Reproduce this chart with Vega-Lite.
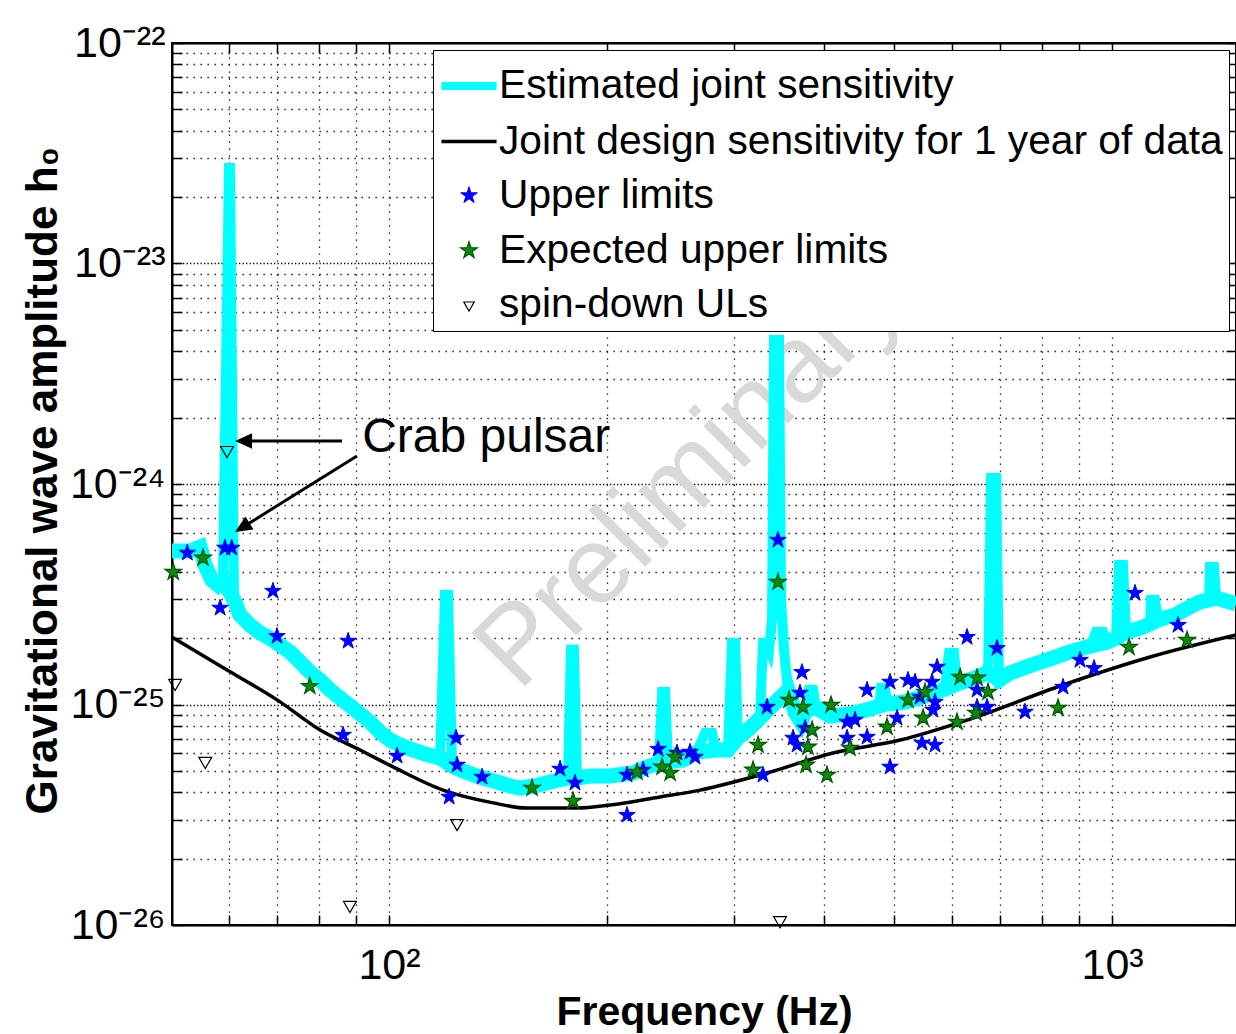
{
  "$schema": "https://vega.github.io/schema/vega-lite/v6.json",
  "width": 1064,
  "height": 882,
  "autosize": {"type": "none"},
  "padding": {"left": 172, "top": 43, "right": 0, "bottom": 109},
  "background": "white",
  "config": {
    "font": "Liberation Sans",
    "view": {"stroke": "#000", "strokeWidth": 2},
    "axis": {"domainColor": "#000", "domainWidth": 2, "tickColor": "#000", "tickWidth": 1.5, "tickSize": -10, "labelColor": "#000", "titleColor": "#000", "labelFont": "Liberation Sans", "titleFont": "Liberation Sans", "labelOverlap": false, "labelFlush": false, "labelBound": false},
    "legend": {"orient": "none", "legendX": 261, "legendY": 7, "fillColor": "#ffffff", "strokeColor": "#000000", "padding": 6, "labelFont": "Liberation Sans", "labelFontSize": 40.7, "labelColor": "#000", "labelLimit": 0, "labelOffset": 0, "symbolOpacity": 1, "symbolSize": 2704, "rowPadding": 7.5}
  },
  "datasets": {
    "est": [
      {"f": 50.1, "h": 4.97e-25}, {"f": 53.06, "h": 4.97e-25}, {"f": 54.78, "h": 5.18e-25}, {"f": 55.65, "h": 4.29e-25},
      {"f": 56.9, "h": 3.67e-25}, {"f": 58.0, "h": 3.48e-25}, {"f": 58.93, "h": 3.67e-25},
      {"f": 60.07, "h": 2.71e-23, "pk": 1}, {"f": 60.26, "h": 2.71e-23, "pk": 1},
      {"f": 61.04, "h": 2.98e-25}, {"f": 62.2, "h": 2.55e-25}, {"f": 64.24, "h": 2.29e-25}, {"f": 66.31, "h": 2.11e-25},
      {"f": 68.46, "h": 2.0e-25}, {"f": 70.67, "h": 1.86e-25}, {"f": 72.96, "h": 1.73e-25}, {"f": 75.31, "h": 1.56e-25},
      {"f": 77.75, "h": 1.40e-25}, {"f": 80.27, "h": 1.29e-25}, {"f": 82.87, "h": 1.164e-25}, {"f": 85.56, "h": 1.07e-25},
      {"f": 88.33, "h": 9.85e-26}, {"f": 91.18, "h": 9.06e-26}, {"f": 94.13, "h": 8.33e-26}, {"f": 97.17, "h": 7.5e-26},
      {"f": 100.32, "h": 6.9e-26}, {"f": 103.56, "h": 6.55e-26}, {"f": 107.94, "h": 6.22e-26}, {"f": 112.15, "h": 5.96e-26},
      {"f": 117.63, "h": 5.72e-26},
      {"f": 119.52, "h": 3.14e-25, "pk": 1}, {"f": 120.67, "h": 3.14e-25, "pk": 1},
      {"f": 122.22, "h": 5.26e-26}, {"f": 126.59, "h": 4.99e-26}, {"f": 133.63, "h": 4.69e-26}, {"f": 141.1, "h": 4.45e-26},
      {"f": 147.07, "h": 4.27e-26}, {"f": 151.78, "h": 4.18e-26}, {"f": 159.2, "h": 4.27e-26}, {"f": 167.0, "h": 4.45e-26},
      {"f": 176.8, "h": 4.64e-26},
      {"f": 178.5, "h": 1.77e-25, "pk": 1}, {"f": 180.2, "h": 1.77e-25, "pk": 1},
      {"f": 182.0, "h": 4.64e-26}, {"f": 189.6, "h": 4.74e-26}, {"f": 202.1, "h": 4.74e-26}, {"f": 217.5, "h": 4.89e-26},
      {"f": 227.5, "h": 5.21e-26}, {"f": 236.3, "h": 5.43e-26},
      {"f": 238.6, "h": 1.139e-25, "pk": 1}, {"f": 240.9, "h": 1.139e-25, "pk": 1},
      {"f": 243.2, "h": 5.49e-26}, {"f": 255.1, "h": 5.6e-26}, {"f": 266.7, "h": 6.09e-26},
      {"f": 273.6, "h": 7.43e-26, "pk": 1}, {"f": 279.7, "h": 7.43e-26, "pk": 1},
      {"f": 283.3, "h": 6.22e-26}, {"f": 294.3, "h": 6.22e-26},
      {"f": 298.1, "h": 1.9e-25, "pk": 1}, {"f": 301.0, "h": 1.9e-25, "pk": 1},
      {"f": 303.8, "h": 7.05e-26}, {"f": 315.7, "h": 7.82e-26}, {"f": 325.9, "h": 8.69e-26},
      {"f": 329.0, "h": 1.9e-25, "pk": 1}, {"f": 332.2, "h": 1.9e-25, "pk": 1}, {"f": 335.4, "h": 1.77e-25, "pk": 1},
      {"f": 338.6, "h": 2.42e-25, "pk": 1}, {"f": 340.8, "h": 4.5e-24, "pk": 1}, {"f": 346.2, "h": 4.5e-24, "pk": 1},
      {"f": 348.5, "h": 2.98e-25, "pk": 1}, {"f": 351.8, "h": 1.77e-25, "pk": 1},
      {"f": 356.3, "h": 1.164e-25}, {"f": 364.4, "h": 9.25e-26}, {"f": 371.4, "h": 8.33e-26}, {"f": 377.4, "h": 9.44e-26},
      {"f": 380.9, "h": 1.164e-25, "pk": 1}, {"f": 385.9, "h": 1.164e-25, "pk": 1},
      {"f": 389.6, "h": 9.64e-26}, {"f": 407.3, "h": 8.87e-26}, {"f": 434.1, "h": 9.06e-26}, {"f": 462.7, "h": 9.54e-26},
      {"f": 476.1, "h": 9.85e-26},
      {"f": 479.2, "h": 1.188e-25, "pk": 1}, {"f": 485.3, "h": 1.188e-25, "pk": 1},
      {"f": 488.4, "h": 1.005e-25}, {"f": 517.3, "h": 1.026e-25}, {"f": 551.3, "h": 1.093e-25}, {"f": 587.5, "h": 1.176e-25},
      {"f": 595.0, "h": 1.71e-25, "pk": 1}, {"f": 604.5, "h": 1.71e-25, "pk": 1},
      {"f": 610.3, "h": 1.24e-25}, {"f": 646.5, "h": 1.32e-25}, {"f": 673.8, "h": 1.4e-25},
      {"f": 680.3, "h": 1.065e-24, "pk": 1}, {"f": 691.1, "h": 1.065e-24, "pk": 1},
      {"f": 697.7, "h": 1.29e-25}, {"f": 722.6, "h": 1.39e-25}, {"f": 770.2, "h": 1.5e-25}, {"f": 820.8, "h": 1.61e-25},
      {"f": 874.9, "h": 1.73e-25}, {"f": 932.4, "h": 1.84e-25},
      {"f": 950.2, "h": 2.13e-25, "pk": 1}, {"f": 971.7, "h": 2.13e-25, "pk": 1},
      {"f": 984.2, "h": 1.92e-25}, {"f": 1012.8, "h": 2.0e-25},
      {"f": 1022.5, "h": 4.29e-25, "pk": 1}, {"f": 1035.6, "h": 4.29e-25, "pk": 1},
      {"f": 1045.6, "h": 2.13e-25}, {"f": 1093.3, "h": 2.22e-25}, {"f": 1128.7, "h": 2.32e-25},
      {"f": 1132.3, "h": 2.98e-25, "pk": 1}, {"f": 1146.6, "h": 2.98e-25, "pk": 1},
      {"f": 1157.7, "h": 2.42e-25}, {"f": 1222.2, "h": 2.55e-25}, {"f": 1289.9, "h": 2.8e-25}, {"f": 1323.2, "h": 2.92e-25},
      {"f": 1361.6, "h": 2.98e-25},
      {"f": 1366.0, "h": 4.2e-25, "pk": 1}, {"f": 1383.8, "h": 4.2e-25, "pk": 1},
      {"f": 1392.6, "h": 3.04e-25}, {"f": 1483.6, "h": 2.86e-25}
    ],
    "design": [
      {"f": 50.1, "h": 2.02e-25}, {"f": 59.7, "h": 1.434e-25}, {"f": 70.1, "h": 1.047e-25}, {"f": 80.3, "h": 7.66e-26},
      {"f": 91.2, "h": 6.22e-26}, {"f": 101.3, "h": 5.21e-26}, {"f": 118.8, "h": 4.09e-26}, {"f": 139.3, "h": 3.58e-26},
      {"f": 155.2, "h": 3.39e-26}, {"f": 182.0, "h": 3.39e-26}, {"f": 202.2, "h": 3.5e-26}, {"f": 237.1, "h": 3.81e-26},
      {"f": 269.3, "h": 4.09e-26}, {"f": 333.3, "h": 4.89e-26}, {"f": 411.3, "h": 6.03e-26}, {"f": 509.1, "h": 6.9e-26},
      {"f": 630.2, "h": 8.5e-26}, {"f": 855.2, "h": 1.226e-25}, {"f": 1128.8, "h": 1.642e-25}, {"f": 1484, "h": 2.066e-25}
    ],
    "stars": [
      {"f": 52.6, "h": 4.87e-25, "s": "Upper limits"}, {"f": 58.4, "h": 2.74e-25, "s": "Upper limits"}, {"f": 59.3, "h": 5.13e-25, "s": "Upper limits"}, {"f": 60.6, "h": 5.13e-25, "s": "Upper limits"},
      {"f": 69.1, "h": 3.27e-25, "s": "Upper limits"}, {"f": 70.0, "h": 2.04e-25, "s": "Upper limits"}, {"f": 87.8, "h": 1.94e-25, "s": "Upper limits"}, {"f": 86.4, "h": 7.27e-26, "s": "Upper limits"},
      {"f": 102.6, "h": 5.84e-26, "s": "Upper limits"}, {"f": 121.1, "h": 3.81e-26, "s": "Upper limits"}, {"f": 123.8, "h": 7.05e-26, "s": "Upper limits"}, {"f": 124.2, "h": 5.32e-26, "s": "Upper limits"},
      {"f": 134.5, "h": 4.69e-26, "s": "Upper limits"}, {"f": 172.4, "h": 5.1e-26, "s": "Upper limits"}, {"f": 180.8, "h": 4.41e-26, "s": "Upper limits"}, {"f": 213.4, "h": 3.15e-26, "s": "Upper limits"},
      {"f": 213.4, "h": 4.79e-26, "s": "Upper limits"}, {"f": 224.6, "h": 5.05e-26, "s": "Upper limits"}, {"f": 235.6, "h": 6.28e-26, "s": "Upper limits"}, {"f": 250.2, "h": 6.03e-26, "s": "Upper limits"},
      {"f": 260.8, "h": 6.09e-26, "s": "Upper limits"}, {"f": 265.0, "h": 5.78e-26, "s": "Upper limits"}, {"f": 329.0, "h": 4.79e-26, "s": "Upper limits"}, {"f": 333.3, "h": 9.74e-26, "s": "Upper limits"},
      {"f": 345.1, "h": 5.57e-25, "s": "Upper limits"}, {"f": 370.2, "h": 1.128e-25, "s": "Upper limits"}, {"f": 372.5, "h": 1.4e-25, "s": "Upper limits"}, {"f": 362.1, "h": 7.05e-26, "s": "Upper limits"},
      {"f": 366.7, "h": 6.55e-26, "s": "Upper limits"}, {"f": 376.2, "h": 7.82e-26, "s": "Upper limits"}, {"f": 430.0, "h": 8.33e-26, "s": "Upper limits"}, {"f": 441.1, "h": 8.51e-26, "s": "Upper limits"},
      {"f": 430.0, "h": 7.05e-26, "s": "Upper limits"}, {"f": 458.3, "h": 1.164e-25, "s": "Upper limits"}, {"f": 458.3, "h": 7.12e-26, "s": "Upper limits"}, {"f": 493.1, "h": 1.265e-25, "s": "Upper limits"},
      {"f": 504.2, "h": 8.69e-26, "s": "Upper limits"}, {"f": 493.1, "h": 5.21e-26, "s": "Upper limits"}, {"f": 522.1, "h": 1.29e-25, "s": "Upper limits"}, {"f": 534.0, "h": 1.265e-25, "s": "Upper limits"},
      {"f": 542.5, "h": 1.081e-25, "s": "Upper limits"}, {"f": 563.6, "h": 1.265e-25, "s": "Upper limits"}, {"f": 572.8, "h": 1.48e-25, "s": "Upper limits"}, {"f": 569.0, "h": 1.026e-25, "s": "Upper limits"},
      {"f": 565.4, "h": 9.44e-26, "s": "Upper limits"}, {"f": 546.0, "h": 6.69e-26, "s": "Upper limits"}, {"f": 569.0, "h": 6.55e-26, "s": "Upper limits"}, {"f": 630.1, "h": 2.02e-25, "s": "Upper limits"},
      {"f": 650.6, "h": 1.164e-25, "s": "Upper limits"}, {"f": 650.6, "h": 9.74e-26, "s": "Upper limits"}, {"f": 671.6, "h": 9.74e-26, "s": "Upper limits"}, {"f": 693.2, "h": 1.8e-25, "s": "Upper limits"},
      {"f": 758.0, "h": 9.25e-26, "s": "Upper limits"}, {"f": 855.5, "h": 1.2e-25, "s": "Upper limits"}, {"f": 903.1, "h": 1.59e-25, "s": "Upper limits"}, {"f": 944.3, "h": 1.46e-25, "s": "Upper limits"},
      {"f": 1075.9, "h": 3.2e-25, "s": "Upper limits"}, {"f": 1234, "h": 2.29e-25, "s": "Upper limits"},
      {"f": 50.3, "h": 3.99e-25, "s": "Expected upper limits"}, {"f": 55.3, "h": 4.62e-25, "s": "Expected upper limits"}, {"f": 77.7, "h": 1.21e-25, "s": "Expected upper limits"}, {"f": 157.7, "h": 4.18e-26, "s": "Expected upper limits"},
      {"f": 179.7, "h": 3.65e-26, "s": "Expected upper limits"}, {"f": 220.3, "h": 4.94e-26, "s": "Expected upper limits"}, {"f": 238.6, "h": 5.21e-26, "s": "Expected upper limits"}, {"f": 244.8, "h": 4.89e-26, "s": "Expected upper limits"},
      {"f": 248.7, "h": 5.78e-26, "s": "Expected upper limits"}, {"f": 318.8, "h": 5.05e-26, "s": "Expected upper limits"}, {"f": 323.9, "h": 6.55e-26, "s": "Expected upper limits"}, {"f": 345.1, "h": 3.59e-25, "s": "Expected upper limits"},
      {"f": 357.5, "h": 1.048e-25, "s": "Expected upper limits"}, {"f": 373.7, "h": 9.74e-26, "s": "Expected upper limits"}, {"f": 384.7, "h": 7.66e-26, "s": "Expected upper limits"}, {"f": 379.7, "h": 6.42e-26, "s": "Expected upper limits"},
      {"f": 377.4, "h": 5.32e-26, "s": "Expected upper limits"}, {"f": 403.4, "h": 4.79e-26, "s": "Expected upper limits"}, {"f": 408.6, "h": 9.95e-26, "s": "Expected upper limits"}, {"f": 434.1, "h": 6.35e-26, "s": "Expected upper limits"},
      {"f": 488.4, "h": 7.91e-26, "s": "Expected upper limits"}, {"f": 522.1, "h": 1.048e-25, "s": "Expected upper limits"}, {"f": 551.3, "h": 1.139e-25, "s": "Expected upper limits"}, {"f": 547.8, "h": 8.69e-26, "s": "Expected upper limits"},
      {"f": 616.4, "h": 1.33e-25, "s": "Expected upper limits"}, {"f": 650.6, "h": 1.32e-25, "s": "Expected upper limits"}, {"f": 673.8, "h": 1.139e-25, "s": "Expected upper limits"}, {"f": 610.3, "h": 8.33e-26, "s": "Expected upper limits"},
      {"f": 648.5, "h": 9.15e-26, "s": "Expected upper limits"}, {"f": 842.0, "h": 9.64e-26, "s": "Expected upper limits"}, {"f": 1055.6, "h": 1.82e-25, "s": "Expected upper limits"}, {"f": 1269.9, "h": 1.96e-25, "s": "Expected upper limits"}
    ],
    "sd": [
      {"f": 59.7, "h": 1.396e-24}, {"f": 50.6, "h": 1.226e-25}, {"f": 55.7, "h": 5.43e-26},
      {"f": 88.3, "h": 1.208e-26}, {"f": 124.2, "h": 2.84e-26}, {"f": 347.4, "h": 1.03e-26}
    ]
  },
  "layer": [
    {
      "data": {"values": [{"f": 260.8, "h": 1.099e-24, "t": "Preliminary"}]},
      "mark": {"type": "text", "font": "Liberation Sans", "fontSize": 110, "color": "#d9d9d9", "angle": 315, "align": "center", "baseline": "middle"},
      "encoding": {
        "x": {"field": "f", "type": "quantitative", "scale": {"type": "log"}, "axis": null},
        "y": {"field": "h", "type": "quantitative", "scale": {"type": "log"}, "axis": null},
        "text": {"field": "t"}
      }
    },
    {
      "data": {"name": "est"},
      "transform": [{"filter": "!datum.pk"}],
      "mark": {"type": "line", "color": "#00ffff", "strokeWidth": 15, "clip": true},
      "encoding": {
        "x": {"field": "f", "type": "quantitative", "scale": {"type": "log", "domain": [50.1, 1484], "nice": false},
          "axis": {"orient": "bottom", "values": [60, 70, 80, 90, 100, 200, 300, 400, 500, 600, 700, 800, 900, 1000],
            "labelExpr": "datum.value === 100 ? '10²' : datum.value === 1000 ? '10³' : ''",
            "labelFontSize": 43, "labelPadding": 29, "grid": true, "gridColor": "#000", "gridOpacity": 1, "gridWidth": 1.3, "gridDash": [1.3, 5.7],
            "title": "Frequency (Hz)", "titleFontSize": 41, "titleFontWeight": "bold", "titleX": 532, "titleY": 99, "titleAlign": "center", "titleBaseline": "alphabetic"}},
        "y": {"field": "h", "type": "quantitative", "scale": {"type": "log", "domain": [1e-26, 1e-22], "nice": false},
          "axis": {"orient": "left", "values": [1e-26, 2e-26, 3e-26, 4e-26, 5e-26, 6e-26, 7e-26, 8e-26, 9e-26, 1e-25, 2e-25, 3e-25, 4e-25, 5e-25, 6e-25, 7e-25, 8e-25, 9e-25, 1e-24, 2e-24, 3e-24, 4e-24, 5e-24, 6e-24, 7e-24, 8e-24, 9e-24, 1e-23, 2e-23, 3e-23, 4e-23, 5e-23, 6e-23, 7e-23, 8e-23, 9e-23, 1e-22],
            "labelExpr": "datum.value === 1e-22 ? '10⁻²²' : datum.value === 1e-23 ? '10⁻²³' : datum.value === 1e-24 ? '10⁻²⁴' : datum.value === 1e-25 ? '10⁻²⁵' : datum.value === 1e-26 ? '10⁻²⁶' : ''",
            "labelFontSize": 43, "labelPadding": 17, "grid": true, "gridColor": "#000", "gridOpacity": 1, "gridWidth": 1.3,
            "gridDash": {"condition": {"test": "datum.value === 1e-22 || datum.value === 1e-23 || datum.value === 1e-24 || datum.value === 1e-25 || datum.value === 1e-26", "value": [1.3, 2.2]}, "value": [1.3, 5.7]},
            "title": "Gravitational wave amplitude h₀", "titleFontSize": 44, "titleFontWeight": "bold", "titleAngle": 270, "titleX": -116, "titleY": 437, "titleAlign": "center", "titleBaseline": "alphabetic"}}
      }
    },
    {
      "data": {"name": "est"},
      "mark": {"type": "line", "color": "#00ffff", "strokeWidth": 10, "clip": true},
      "encoding": {
        "x": {"field": "f", "type": "quantitative", "scale": {"type": "log"}, "axis": null},
        "y": {"field": "h", "type": "quantitative", "scale": {"type": "log"}, "axis": null}
      }
    },
    {
      "data": {"name": "design"},
      "mark": {"type": "line", "color": "#000000", "strokeWidth": 3.5, "interpolate": "monotone", "clip": true},
      "encoding": {
        "x": {"field": "f", "type": "quantitative", "scale": {"type": "log"},
          "axis": {"orient": "top", "values": [60, 70, 80, 90, 100, 200, 300, 400, 500, 600, 700, 800, 900, 1000], "labels": false, "grid": false, "title": null}},
        "y": {"field": "h", "type": "quantitative", "scale": {"type": "log"},
          "axis": {"orient": "right", "values": [1e-26, 2e-26, 3e-26, 4e-26, 5e-26, 6e-26, 7e-26, 8e-26, 9e-26, 1e-25, 2e-25, 3e-25, 4e-25, 5e-25, 6e-25, 7e-25, 8e-25, 9e-25, 1e-24, 2e-24, 3e-24, 4e-24, 5e-24, 6e-24, 7e-24, 8e-24, 9e-24, 1e-23, 2e-23, 3e-23, 4e-23, 5e-23, 6e-23, 7e-23, 8e-23, 9e-23, 1e-22], "labels": false, "grid": false, "title": null}}
      }
    },
    {
      "data": {"name": "stars"},
      "mark": {"type": "point", "filled": true, "opacity": 1, "size": 2704},
      "encoding": {
        "x": {"field": "f", "type": "quantitative", "scale": {"type": "log"}, "axis": null},
        "y": {"field": "h", "type": "quantitative", "scale": {"type": "log"}, "axis": null},
        "color": {"field": "s", "type": "nominal",
          "scale": {"domain": ["Estimated joint sensitivity", "Joint design sensitivity for 1 year of data", "Upper limits", "Expected upper limits", "spin-down ULs"], "range": ["#00ffff", "#000000", "#0000ff", "#0f8a0f", "transparent"]},
          "legend": {"title": null}},
        "stroke": {"field": "s", "type": "nominal",
          "scale": {"domain": ["Estimated joint sensitivity", "Joint design sensitivity for 1 year of data", "Upper limits", "Expected upper limits", "spin-down ULs"], "range": ["#00ffff", "#000000", "#0000ff", "#005a00", "#000000"]},
          "legend": {"title": null}},
        "strokeWidth": {"field": "s", "type": "nominal",
          "scale": {"type": "ordinal", "domain": ["Estimated joint sensitivity", "Joint design sensitivity for 1 year of data", "Upper limits", "Expected upper limits", "spin-down ULs"], "range": [8, 3.5, 1, 1.3, 1.2]},
          "legend": {"title": null}},
        "shape": {"field": "s", "type": "nominal",
          "scale": {"domain": ["Estimated joint sensitivity", "Joint design sensitivity for 1 year of data", "Upper limits", "Expected upper limits", "spin-down ULs"],
            "range": ["M-1.06,0L1.06,0", "M-1.06,0L1.06,0", "M0,-0.335L0.0754,-0.1035L0.3186,-0.1035L0.1216,0.0395L0.197,0.271L0,0.128L-0.197,0.271L-0.1216,0.0395L-0.3186,-0.1035L-0.0754,-0.1035Z", "M0,-0.335L0.0754,-0.1035L0.3186,-0.1035L0.1216,0.0395L0.197,0.271L0,0.128L-0.197,0.271L-0.1216,0.0395L-0.3186,-0.1035L-0.0754,-0.1035Z", "M-0.2,-0.115L0.2,-0.115L0,0.23Z"]},
          "legend": {"title": null}}
      }
    },
    {
      "data": {"name": "sd"},
      "mark": {"type": "point", "shape": "triangle-down", "filled": false, "size": 165, "color": "#000000", "strokeWidth": 1.2, "opacity": 1},
      "encoding": {
        "x": {"field": "f", "type": "quantitative", "scale": {"type": "log"}, "axis": null},
        "y": {"field": "h", "type": "quantitative", "scale": {"type": "log"}, "axis": null}
      }
    },
    {
      "data": {"values": [{"f1": 86.1, "h1": 1.567e-24, "f2": 63.2, "h2": 1.567e-24}, {"f1": 90.3, "h1": 1.34e-24, "f2": 62.9, "h2": 6.4e-25}]},
      "mark": {"type": "rule", "color": "#000000", "strokeWidth": 3},
      "encoding": {
        "x": {"field": "f1", "type": "quantitative", "scale": {"type": "log"}, "axis": null},
        "y": {"field": "h1", "type": "quantitative", "scale": {"type": "log"}, "axis": null},
        "x2": {"field": "f2"},
        "y2": {"field": "h2"}
      }
    },
    {
      "data": {"values": [{"f": 61.24, "h": 1.567e-24}]},
      "mark": {"type": "point", "shape": "M0,0L2,-0.9L2,0.9Z", "filled": true, "size": 289, "color": "#000000", "opacity": 1, "angle": 0},
      "encoding": {
        "x": {"field": "f", "type": "quantitative", "scale": {"type": "log"}, "axis": null},
        "y": {"field": "h", "type": "quantitative", "scale": {"type": "log"}, "axis": null}
      }
    },
    {
      "data": {"values": [{"f": 61.24, "h": 6.06e-25}]},
      "mark": {"type": "point", "shape": "M0,0L2,-0.9L2,0.9Z", "filled": true, "size": 289, "color": "#000000", "opacity": 1, "angle": 328.1},
      "encoding": {
        "x": {"field": "f", "type": "quantitative", "scale": {"type": "log"}, "axis": null},
        "y": {"field": "h", "type": "quantitative", "scale": {"type": "log"}, "axis": null}
      }
    },
    {
      "data": {"values": [{"f": 91.8, "h": 1.396e-24, "t": "Crab pulsar"}]},
      "mark": {"type": "text", "font": "Liberation Sans", "fontSize": 48, "color": "#000000", "align": "left", "baseline": "alphabetic"},
      "encoding": {
        "x": {"field": "f", "type": "quantitative", "scale": {"type": "log"}, "axis": null},
        "y": {"field": "h", "type": "quantitative", "scale": {"type": "log"}, "axis": null},
        "text": {"field": "t"}
      }
    }
  ],
  "resolve": {"axis": {"x": "independent", "y": "independent"}}
}
